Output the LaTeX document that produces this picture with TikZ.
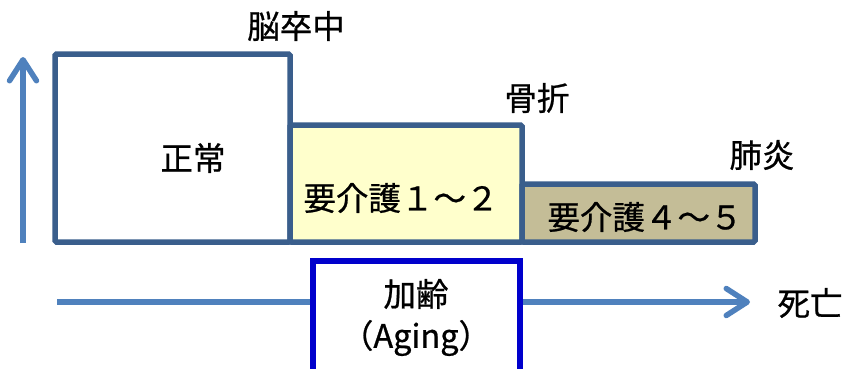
\documentclass[tikz,border=0pt]{standalone}
\usepackage{fontspec}
\setmainfont{Noto Sans CJK JP}
\newfontfamily\jpmed[FakeBold=0.7]{Noto Sans CJK JP}
\usetikzlibrary{arrows.meta}
\definecolor{arrowblue}{HTML}{4F81BD}
\definecolor{boxedge}{HTML}{3A5E8C}
\definecolor{lightyellow}{HTML}{FFFFCC}
\definecolor{tan}{HTML}{C4BD97}
\definecolor{agingblue}{HTML}{0000CC}
\tikzset{
  lbl/.style={font=\jpmed\fontsize{32.5}{38}\selectfont, text=black, inner sep=0pt},
  stage/.style={draw=boxedge, line width=5.5pt, rounded corners=1.5pt},
  axis/.style={draw=arrowblue, line width=5.5pt,
    -{Straight Barb[length=21pt,width=27pt,line cap=round,line join=round]}},
}
\begin{document}
\begin{tikzpicture}[x=1pt,y=-1pt]
\useasboundingbox (0,0) rectangle (847,368);
% vertical axis
\coordinate (vb) at (23,243);
\coordinate (vt) at (23,57);
\draw[axis] (vb) -- (vt);
% horizontal axis
\coordinate (hl) at (57,302);
\coordinate (hr) at (750,302);
\draw[axis] (hl) -- (hr);
% stage boxes
\draw[stage, fill=white] (55,54) rectangle (290,242);
\draw[stage, fill=lightyellow] (290,125) rectangle (522,242);
\draw[stage, fill=tan] (522,184) rectangle (755,242);
\node[lbl] (normal) at (193,158) {正常};
\node[lbl] (care12) at (401,198) {要介護１～２};
\node[lbl] (care45) at (645,217) {要介護４～５};
% event labels
\node[lbl] (stroke) at (296,26) {脳卒中};
\node[lbl] (fract) at (537,98) {骨折};
\node[lbl] (pneu) at (762,155) {肺炎};
\node[lbl] (death) at (810,303) {死亡};
% aging box
\draw[draw=agingblue, line width=5.5pt, fill=white] (313,261) rectangle (520,390);
\node[lbl] (aging) at (416,294) {加齢};
\node[lbl] (agingen) at (416,338) {（Aging）};
\end{tikzpicture}
\end{document}
